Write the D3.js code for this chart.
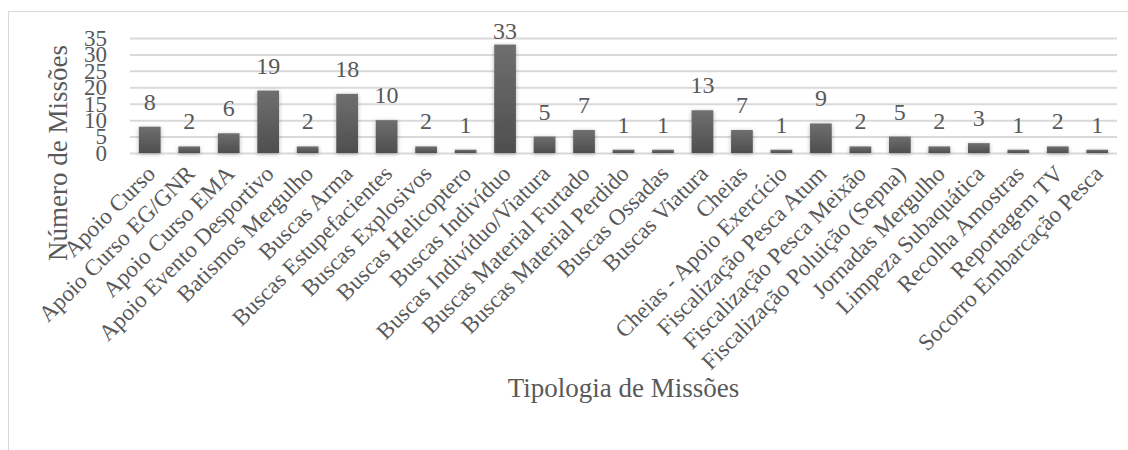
<!DOCTYPE html>
<html>
<head>
<meta charset="utf-8">
<script src="https://cdn.jsdelivr.net/npm/d3@7"></script>
<style>
    body { margin: 0; background: #fff; }
</style>
</head>
<body>
<svg id="chart"></svg>
<script>

// ----------------------------------------- Data -----------------------------------------

var categories = [
    "Apoio Curso", "Apoio Curso EG/GNR", "Apoio Curso EMA", "Apoio Evento Desportivo",
    "Batismos Mergulho", "Buscas Arma", "Buscas Estupefacientes", "Buscas Explosivos",
    "Buscas Helicoptero", "Buscas Indivíduo", "Buscas Indivíduo/Viatura", "Buscas Material Furtado",
    "Buscas Material Perdido", "Buscas Ossadas", "Buscas Viatura", "Cheias",
    "Cheias - Apoio Exercício", "Fiscalização Pesca Atum", "Fiscalização Pesca Meixão",
    "Fiscalização Poluição (Sepna)", "Jornadas Mergulho", "Limpeza Subaquática",
    "Recolha Amostras", "Reportagem TV", "Socorro Embarcação Pesca"
];
var missions = [8, 2, 6, 19, 2, 18, 10, 2, 1, 33, 5, 7, 1, 1, 13, 7, 1, 9, 2, 5, 2, 3, 1, 2, 1];
var yTicks = [0, 5, 10, 15, 20, 25, 30, 35];

var xTitle = "Tipologia de Missões";
var yTitle = "Número de Missões";

// ----------------------------------------- Chart -----------------------------------------

var width = 1128;
var height = 450;
var plotLeft = 130;
var plotRight = 1117;
var plotTop = 22;
var plotBottom = 153;
var fontFam = '"Liberation Serif", "Times New Roman", serif';
var textCol = '#595959';

var svg = d3.select('#chart')
            .attr('width', width)
            .attr('height', height);

// Gradient and shadow for bars
var defs = svg.append('defs');

var grad = defs.append('linearGradient')
    .attr('id', 'barGrad')
    .attr('x1', 0).attr('y1', 0)
    .attr('x2', 0).attr('y2', 1);
grad.append('stop').attr('offset', '0%').attr('stop-color', '#6f6f6f');
grad.append('stop').attr('offset', '100%').attr('stop-color', '#4e4e4e');

var shadow = defs.append('filter')
    .attr('id', 'shadow')
    .attr('x', '-50%').attr('y', '-50%')
    .attr('width', '200%').attr('height', '200%');
shadow.append('feDropShadow')
    .attr('dx', 0).attr('dy', 1)
    .attr('stdDeviation', 2)
    .attr('flood-color', '#000')
    .attr('flood-opacity', 0.3);

// Chart border
svg.append('rect')
    .attr('x', 8.5)
    .attr('y', 11.5)
    .attr('width', width + 20)
    .attr('height', height + 20)
    .attr('fill', 'none')
    .attr('stroke', '#d9d9d9');

// Scales
var xScale = d3.scaleBand()
               .domain(categories)
               .range([plotLeft, plotRight])
               .paddingInner(0.45)
               .paddingOuter(0.225);

var yScale = d3.scaleLinear()
               .domain([0, 35])
               .range([plotBottom, 38]);

// Grid lines (y-axis)
var yAxis = d3.axisLeft(yScale)
              .tickValues(yTicks)
              .tickSize(-(plotRight - plotLeft))
              .tickPadding(23);

var yG = svg.append('g')
    .attr('transform', 'translate(' + plotLeft + ',0)')
    .call(yAxis);

yG.select('.domain').remove();
yG.selectAll('line')
    .attr('stroke', '#d9d9d9')
    .attr('stroke-width', 2);
yG.selectAll('text')
    .attr('fill', textCol)
    .style('font-size', '23px')
    .style('font-family', fontFam);

// Bars
svg.selectAll('rect.bar')
    .data(missions)
    .enter()
    .append('rect')
        .classed('bar', true)
        .attr('x', (d, i) => xScale(categories[i]))
        .attr('width', xScale.bandwidth())
        .attr('y', d => yScale(d))
        .attr('height', d => yScale(0) - yScale(d))
        .attr('fill', 'url(#barGrad)')
        .attr('filter', 'url(#shadow)');

// Data labels
svg.selectAll('text.val')
    .data(missions)
    .enter()
    .append('text')
        .classed('val', true)
        .attr('x', (d, i) => xScale(categories[i]) + xScale.bandwidth() / 2)
        .attr('y', d => Math.max(yScale(d) - 17, plotTop + 17))
        .attr('text-anchor', 'middle')
        .attr('fill', textCol)
        .style('font-size', '24px')
        .style('font-family', fontFam)
        .text(d => d);

// x-axis (category labels)
var xAxis = d3.axisBottom(xScale).tickSize(0).tickPadding(0);

var xG = svg.append('g')
    .attr('transform', 'translate(0,' + plotBottom + ')')
    .call(xAxis);

xG.select('.domain').remove();
xG.selectAll('text')
    .attr('y', 0)
    .attr('dy', 0)
    .attr('transform', 'translate(7,22) rotate(-45)')
    .attr('fill', textCol)
    .style('text-anchor', 'end')
    .style('font-size', '23px')
    .style('font-family', fontFam);

// Axis titles
svg.append('text')
    .text(xTitle)
    .attr('x', (plotLeft + plotRight) / 2)
    .attr('y', 397)
    .attr('text-anchor', 'middle')
    .attr('fill', textCol)
    .style('font-size', '27px')
    .style('font-family', fontFam);

svg.append('text')
    .text(yTitle)
    .attr('transform', 'translate(67,153) rotate(-90)')
    .attr('text-anchor', 'middle')
    .attr('fill', textCol)
    .style('font-size', '27px')
    .style('font-family', fontFam);

</script>
</body>
</html>
